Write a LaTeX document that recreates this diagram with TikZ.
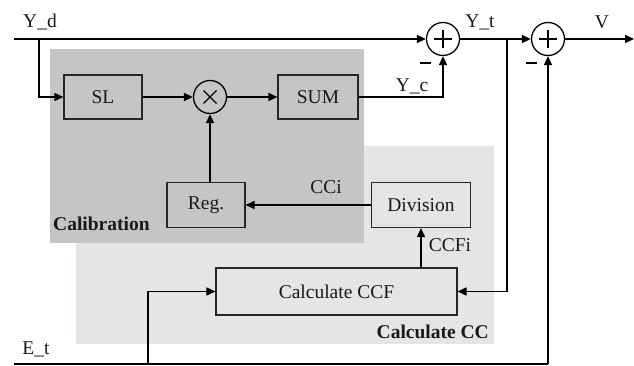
\documentclass[tikz,border=0pt]{standalone}
\usepackage{fontspec}
\setmainfont{Liberation Serif}
\usetikzlibrary{arrows.meta}
\begin{document}
\begin{tikzpicture}[x=1pt,y=-1pt,
  font=\fontsize{19.5}{22}\selectfont,
  wire/.style={line width=1.6pt},
  arr/.style={wire,-{Triangle[length=9pt,width=8pt]}},
  blk/.style={draw=black!85,line width=1.1pt,rectangle,inner sep=0pt,text=black!90},
  junc/.style={draw=black,line width=1.3pt,circle,minimum size=33pt,inner sep=0pt},
  plussign/.style={path picture={\draw[line width=1.2pt] ([xshift=-9pt]path picture bounding box.center) -- ([xshift=9pt]path picture bounding box.center);
     \draw[line width=1.2pt] ([yshift=-9pt]path picture bounding box.center) -- ([yshift=9pt]path picture bounding box.center);}},
  timessign/.style={path picture={\draw[line width=1.2pt] ([shift={(-6.5pt,-6.5pt)}]path picture bounding box.center) -- ([shift={(6.5pt,6.5pt)}]path picture bounding box.center);
     \draw[line width=1.2pt] ([shift={(-6.5pt,6.5pt)}]path picture bounding box.center) -- ([shift={(6.5pt,-6.5pt)}]path picture bounding box.center);}},
  lbl/.style={inner sep=0pt,text=black!90},
  minus/.style={line width=2pt}
]
\useasboundingbox (0,0) rectangle (634,366);
% regions
\fill[fill={rgb,255:red,228;green,229;blue,229}] (76,146) rectangle (494,344);
\fill[fill={rgb,255:red,197;green,197;blue,197}] (50,49) rectangle (364,243);
% blocks
\node[blk,minimum width=78pt,minimum height=44pt] (sl) at (103,97) {SL};
\node[junc,timessign] (mul) at (210,97) {};
\node[blk,minimum width=80pt,minimum height=44pt] (sum) at (318,97) {SUM};
\node[junc,plussign] (s1) at (443,39) {};
\node[junc,plussign] (s2) at (548,39) {};
\node[blk,minimum width=78pt,minimum height=45pt] (reg) at (206,205) {Reg.};
\node[blk,minimum width=99pt,minimum height=45pt] (div) at (421,205) {Division};
\node[blk,minimum width=241pt,minimum height=47pt] (ccf) at (336.5,291.5) {Calculate CCF};
% free ends
\coordinate (ydin) at (14,39);
\coordinate (ydbr) at (39,39);
\coordinate (ytbr) at (507,39);
\coordinate (vout) at (634,39);
\coordinate (etin) at (14,364);
\coordinate (etbr) at (148,364);
\coordinate (etend) at (548,364);
% connectors
\draw[arr] (ydin) -- (s1.west);
\draw[arr] (ydbr) |- (sl.west);
\draw[arr] (sl.east) -- (mul.west);
\draw[arr] (mul.east) -- (sum.west);
\draw[arr] (sum.east) -| (s1.south);
\draw[arr] (reg.north -| mul.south) -- (mul.south);
\draw[arr] (div.west) -- (reg.east);
\draw[arr] (ccf.north -| div.south) -- (div.south);
\draw[arr] (s1.east) -- (s2.west);
\draw[arr] (ytbr) |- (ccf.east);
\draw[arr] (s2.east) -- (vout);
\draw[wire] (etin) -- (etend);
\draw[arr] (etend) -- (s2.south);
\draw[arr] (etbr) |- (ccf.west);
% minus signs
\draw[minus] (420,63) -- (431,63);
\draw[minus] (526,63) -- (537,63);
% labels
\node[lbl] (lyd) at (40,22) {Y\_d};
\node[lbl] (lyt) at (480,22) {Y\_t};
\node[lbl] (lv) at (602,22) {V};
\node[lbl] (lyc) at (412,86) {Y\_c};
\node[lbl] (let) at (36,349) {E\_t};
\node[lbl] (lcci) at (326,187) {CCi};
\node[lbl] (lccfi) at (450,245) {CCFi};
\node[lbl,anchor=west,font=\fontsize{19.5}{22}\selectfont\bfseries] (lcal) at (53,224) {Calibration};
\node[lbl,anchor=east,font=\fontsize{19.5}{22}\selectfont\bfseries] (lcc) at (489,332) {Calculate CC};
\end{tikzpicture}
\end{document}
